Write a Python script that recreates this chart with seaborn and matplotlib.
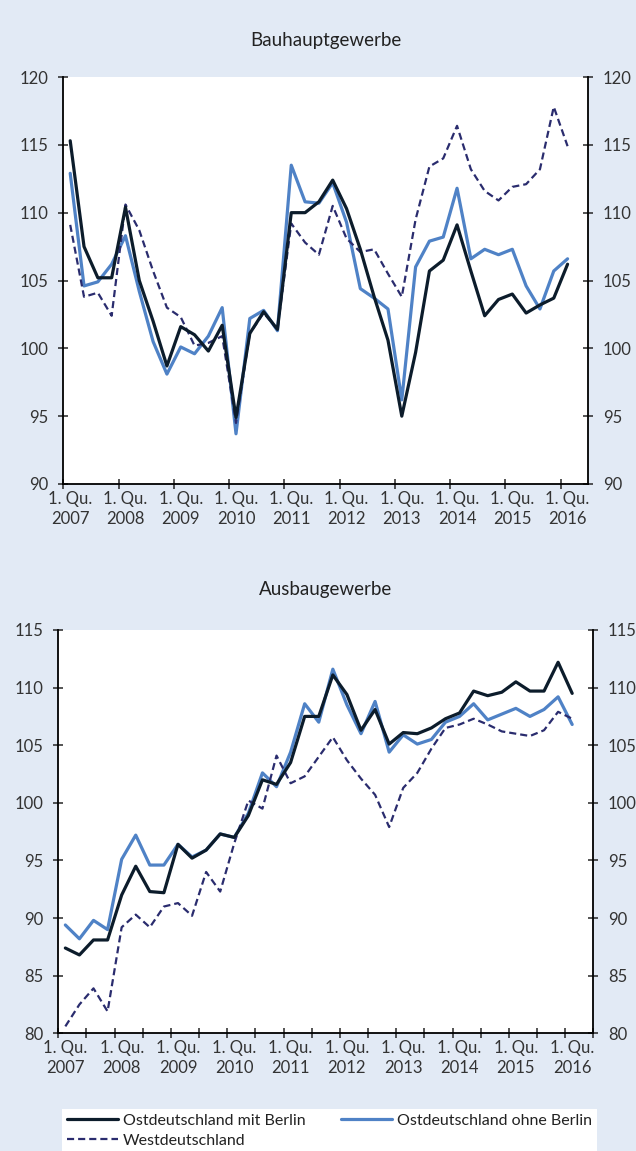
import numpy as np
import pandas as pd
import matplotlib
matplotlib.use("Agg")
import matplotlib.pyplot as plt
import seaborn as sns

# Quarterly index values, 1. Qu. 2007 - 1. Qu. 2016
years = list(range(2007, 2017))
quarters = [f"{y}Q{q}" for y in years for q in range(1, 5)][:37]

# Bauhauptgewerbe
bau_ost_mit = [115.3, 107.5, 105.2, 105.2, 110.4, 105.0, 102.0, 98.7, 101.6, 101.0, 99.8, 101.7,
               94.9, 101.1, 102.7, 101.4, 110.0, 110.0, 110.8, 112.4, 110.3, 107.3, 103.8, 100.6,
               95.0, 99.7, 105.7, 106.5, 109.1, 105.7, 102.4, 103.6, 104.0, 102.6, 103.2, 103.7, 106.2]
bau_ost_ohne = [112.9, 104.6, 104.9, 106.2, 108.3, 104.2, 100.5, 98.1, 100.1, 99.6, 100.9, 103.0,
                93.7, 102.2, 102.8, 101.3, 113.5, 110.8, 110.7, 112.2, 109.3, 104.4, 103.7, 102.9,
                96.2, 106.0, 107.9, 108.2, 111.8, 106.6, 107.3, 106.9, 107.3, 104.6, 102.9, 105.7, 106.6]
bau_west = [109.1, 103.8, 104.1, 102.4, 110.6, 108.7, 105.7, 103.0, 102.3, 100.2, 100.4, 100.9,
            94.5, 101.1, 102.6, 101.4, 109.2, 107.8, 106.9, 110.5, 108.1, 107.1, 107.3, 105.5,
            103.8, 109.5, 113.4, 114.0, 116.4, 113.2, 111.6, 110.9, 111.9, 112.1, 113.2, 117.8, 114.9]

# Ausbaugewerbe
aus_ost_mit = [87.4, 86.8, 88.1, 88.1, 92.0, 94.5, 92.3, 92.2, 96.4, 95.2, 95.9, 97.3,
               97.0, 98.9, 102.0, 101.6, 103.5, 107.5, 107.5, 111.1, 109.4, 106.3, 108.1, 105.1,
               106.1, 106.0, 106.5, 107.3, 107.8, 109.7, 109.3, 109.6, 110.5, 109.7, 109.7, 112.2, 109.5]
aus_ost_ohne = [89.4, 88.2, 89.8, 89.0, 95.1, 97.2, 94.6, 94.6, 96.4, 95.3, 95.9, 97.3,
                97.0, 99.1, 102.6, 101.4, 104.4, 108.6, 107.0, 111.6, 108.5, 106.0, 108.8, 104.4,
                105.9, 105.1, 105.5, 107.0, 107.5, 108.6, 107.2, 107.7, 108.2, 107.5, 108.1, 109.2, 106.8]
aus_west = [80.6, 82.5, 83.9, 81.9, 89.2, 90.3, 89.2, 91.0, 91.3, 90.2, 94.0, 92.3,
            96.5, 100.2, 99.5, 104.1, 101.7, 102.3, 104.0, 105.7, 103.7, 102.1, 100.7, 97.9,
            101.3, 102.6, 104.7, 106.5, 106.8, 107.3, 106.8, 106.2, 106.0, 105.8, 106.3, 107.9, 107.3]

series = ["Ostdeutschland mit Berlin", "Ostdeutschland ohne Berlin", "Westdeutschland"]
tick_labels = [f"1. Qu.\n{y}" for y in years]

bg = "#e2eaf5"
palette = {series[0]: "#0c1c2b", series[1]: "#4f82c6", series[2]: "#2a2c6e"}
widths = {series[0]: 2.3, series[1]: 2.3, series[2]: 1.6}

sns.set_style("white")
plt.rcParams["font.family"] = ["Lato", "DejaVu Sans"]
plt.rcParams["text.color"] = "#222222"


def make_df(a, b, c):
    rows = []
    for name, vals in zip(series, [a, b, c]):
        for i, v in enumerate(vals):
            rows.append({"i": i, "quarter": quarters[i], "series": name, "value": v})
    return pd.DataFrame(rows)


fig = plt.figure(figsize=(6.36, 11.51), dpi=100, facecolor=bg)
ax1 = fig.add_axes([63.3 / 636, 1 - 484 / 1151, 525 / 636, 407 / 1151])
ax2 = fig.add_axes([58.3 / 636, 1 - 1033.3 / 1151, 535 / 636, 403.3 / 1151])

panels = [
    (ax1, make_df(bau_ost_mit, bau_ost_ohne, bau_west), "Bauhauptgewerbe", (90, 120), 4, 22.5),
    (ax2, make_df(aus_ost_mit, aus_ost_ohne, aus_west), "Ausbaugewerbe", (80, 115), 2, 25),
]

for ax, df, title, ylim, step, tpad in panels:
    sns.lineplot(data=df, x="i", y="value", hue="series", style="series",
                 hue_order=series, style_order=series, palette=palette,
                 dashes={series[0]: "", series[1]: "", series[2]: (3.2, 1.8)},
                 ax=ax, legend=False)
    for line, name in zip(ax.get_lines(), series):
        line.set_linewidth(widths[name])
    ax.lines[0].set_zorder(4)

    ax.set_facecolor("white")
    ax.set_xlim(-0.5, 37.5)
    ax.set_ylim(*ylim)
    ax.set_xlabel("")
    ax.set_ylabel("")
    ax.set_title(title, fontsize=13.5, pad=tpad)

    ax.set_xticks(np.arange(-0.5, 38, step))
    ax.set_xticklabels([])
    ax.set_xticks(np.arange(0, 37, 4), minor=True)
    ax.set_xticklabels(tick_labels, minor=True, fontsize=12, linespacing=1.3)
    ax.tick_params(axis="x", which="major", direction="inout", length=7, width=1.1, bottom=True)
    ax.tick_params(axis="x", which="minor", length=0, pad=5, labelcolor="#333333")

    ax.set_yticks(np.arange(ylim[0], ylim[1] + 1, 5))
    ax.tick_params(axis="y", direction="inout", length=7, width=1.1, left=True, right=True,
                   labelleft=True, labelright=True, labelsize=12, labelcolor="#333333", pad=7)

    for side in ["left", "right", "bottom"]:
        ax.spines[side].set_visible(True)
        ax.spines[side].set_color("black")
        ax.spines[side].set_linewidth(1.3)
    ax.spines["top"].set_visible(False)

handles = {name: line for name, line in zip(series, ax2.get_lines())}
order = [series[0], series[2], series[1]]
leg = fig.legend([handles[n] for n in order], order, loc="upper left",
                 bbox_to_anchor=(62 / 636, 0, 535 / 636, 42 / 1151),
                 mode="expand", ncol=2, frameon=True, fancybox=False, framealpha=1,
                 fontsize=11.5, handlelength=3.2, handletextpad=0.3, labelspacing=0.35,
                 borderpad=0.3, borderaxespad=0)
leg.get_frame().set_facecolor("white")
leg.get_frame().set_edgecolor("white")
leg.get_frame().set_linewidth(0)

fig.savefig("out.png", dpi=100, facecolor=bg)
